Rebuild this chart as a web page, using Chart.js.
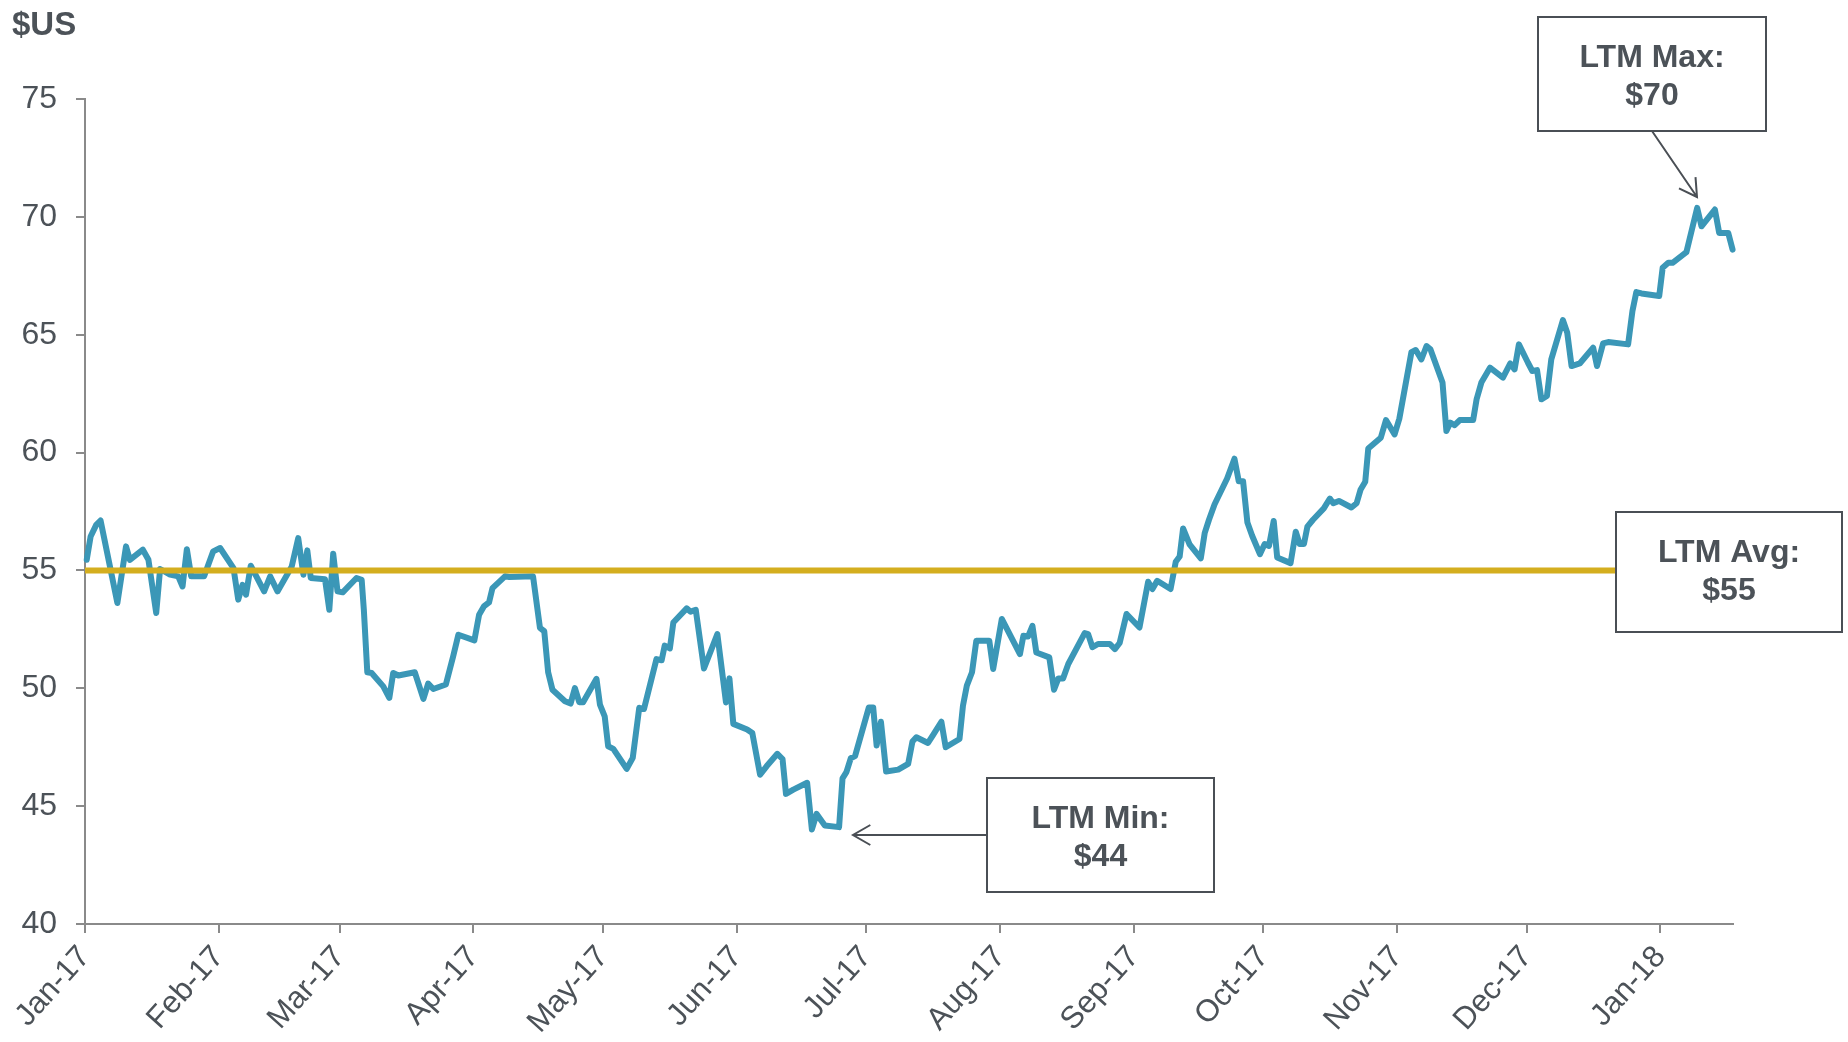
<!DOCTYPE html>
<html>
<head>
<meta charset="utf-8">
<script src="https://cdn.jsdelivr.net/npm/chart.js@4.4.1/dist/chart.umd.min.js"></script>
<style>
  html, body { margin: 0; padding: 0; background: #fff; }
  #wrap { width: 1848px; height: 1042px; position: relative; }
</style>
</head>
<body>
<div id="wrap"><canvas id="priceChart"></canvas></div>
<script>
// x = days counted from 1 Jan 2017 (the Jan-17 tick)
var days = [
  0.4, 1.3, 2.6, 3.6, 7.5, 9.5, 10.4, 13.4, 14.7, 16.5, 17.4, 19.7, 21.6, 22.6, 23.6, 24.6, 27.6, 29.7, 31.3, 34.4,
  35.5, 36.5, 37.3, 38.4, 41.5, 42.9, 44.6, 47.9, 49.4, 50.6, 51.5, 52.3, 55.6, 56.6, 57.5, 58.5, 59.7, 62.9, 64.1, 64.6,
  65.4, 66.4, 69.1, 70.5, 71.4, 72.6, 76.4, 78.4, 79.5, 80.7, 83.6, 85.3, 86.5, 90.2, 91.3, 92.4, 93.6, 94.4, 97.3, 98.3,
  103.8, 105.4, 106.4, 107.3, 108.3, 111.2, 112.5, 113.5, 114.5, 115.4, 118.5, 119.3, 120.4, 121.2, 122.4, 125.5, 126.9, 128.4, 129.5, 132.4,
  133.6, 134.3, 135.5, 136.3, 139.4, 140.3, 141.5, 143.4, 146.5, 148.5, 149.3, 150.2, 153.4, 154.6, 156.4, 157.9, 160.4, 161.6, 162.4, 164.1,
  167.3, 168.4, 169.5, 171.4, 174.7, 175.5, 176.4, 177.4, 178.4, 181.6, 182.6, 183.4, 184.4, 185.6, 188.4, 190.7, 191.7, 192.6, 195.3, 196.5,
  198.4, 199.4, 202.6, 203.4, 204.3, 205.5, 206.5, 209.5, 210.4, 212.4, 216.6, 217.4, 218.5, 219.5, 220.4, 223.4, 224.5, 225.5, 226.6, 227.8,
  231.6, 232.4, 233.4, 234.7, 237.4, 238.6, 239.7, 241.3, 244.3, 246.3, 247.3, 248.4, 251.5, 252.7, 253.6, 254.4, 255.9, 258.5, 259.4, 260.4,
  261.7, 264.6, 266.3, 267.3, 268.3, 269.3, 270.4, 272.2, 273.3, 274.3, 275.4, 276.2, 279.3, 280.5, 281.4, 282.4, 283.2, 284.5, 287.0, 288.4,
  289.2, 290.5, 293.4, 294.6, 295.5, 296.6, 297.3, 300.2, 301.4, 303.4, 304.5, 307.3, 308.3, 309.6, 310.8, 311.7, 314.5, 315.4, 316.3, 317.3,
  318.5, 321.6, 322.4, 323.5, 325.5, 328.5, 330.2, 331.2, 332.2, 334.3, 335.3, 336.4, 337.4, 338.7, 339.7, 342.4, 343.4, 344.4, 346.3, 349.4,
  350.3, 351.7, 352.9, 357.5, 358.5, 359.4, 360.6, 364.7, 365.5, 366.8, 367.8, 371.0, 373.5, 374.5, 377.6, 378.6, 380.7, 381.7
];
var prices = [
  55.45, 56.44, 56.93, 57.12, 53.62, 56.02, 55.45, 55.88, 55.45, 53.19, 55.06, 54.82, 54.75, 54.32, 55.90, 54.75, 54.75, 55.81, 55.95, 55.10,
  53.76, 54.39, 53.97, 55.20, 54.11, 54.75, 54.11, 55.17, 56.37, 54.82, 55.85, 54.68, 54.63, 53.33, 55.71, 54.11, 54.07, 54.68, 54.60, 53.33,
  50.68, 50.65, 50.08, 49.59, 50.65, 50.54, 50.68, 49.55, 50.20, 49.97, 50.16, 51.36, 52.27, 52.03, 53.12, 53.47, 53.64, 54.25, 54.75, 54.72,
  54.75, 52.56, 52.42, 50.68, 49.94, 49.45, 49.35, 50.01, 49.41, 49.41, 50.40, 49.31, 48.81, 47.54, 47.43, 46.58, 47.05, 49.17, 49.12, 51.24,
  51.19, 51.81, 51.69, 52.79, 53.39, 53.25, 53.33, 50.84, 52.30, 49.40, 50.42, 48.49, 48.25, 48.10, 46.33, 46.69, 47.22, 47.00, 45.52, 45.70,
  45.99, 44.01, 44.67, 44.18, 44.11, 46.18, 46.44, 47.03, 47.12, 49.19, 49.19, 47.57, 48.58, 46.47, 46.55, 46.79, 47.74, 47.92, 47.68, 48.02,
  48.58, 47.50, 47.85, 49.26, 50.11, 50.68, 52.02, 52.02, 50.82, 52.94, 51.45, 52.23, 52.20, 52.65, 51.52, 51.31, 49.94, 50.42, 50.42, 51.03,
  52.34, 52.30, 51.74, 51.88, 51.88, 51.66, 51.92, 53.15, 52.58, 54.52, 54.21, 54.56, 54.21, 55.37, 55.59, 56.78, 56.11, 55.51, 56.58, 57.15,
  57.81, 58.90, 59.74, 58.78, 58.78, 57.03, 56.47, 55.69, 56.12, 56.04, 57.10, 55.55, 55.31, 56.64, 56.12, 56.12, 56.86, 57.15, 57.63, 58.05,
  57.85, 57.95, 57.67, 57.85, 58.42, 58.76, 60.17, 60.63, 61.38, 60.77, 61.44, 64.26, 64.35, 63.95, 64.52, 64.38, 62.97, 60.92, 61.27, 61.16,
  61.38, 61.38, 62.26, 62.97, 63.60, 63.18, 63.78, 63.53, 64.59, 63.81, 63.46, 63.50, 62.26, 62.40, 63.95, 65.62, 65.08, 63.67, 63.78, 64.45,
  63.67, 64.63, 64.69, 64.59, 66.00, 66.81, 66.75, 66.64, 67.84, 68.05, 68.05, 68.50, 70.38, 69.60, 70.31, 69.32, 69.32, 68.61
];
var monthDays = [0, 31, 59, 90, 120, 151, 181, 212, 243, 273, 304, 334, 365];
var monthLabels = ['Jan-17', 'Feb-17', 'Mar-17', 'Apr-17', 'May-17', 'Jun-17', 'Jul-17',
                   'Aug-17', 'Sep-17', 'Oct-17', 'Nov-17', 'Dec-17', 'Jan-18'];
var yTicks = [40, 45, 50, 55, 60, 65, 70, 75];
var ltmAvg = 55, ltmMin = 44, ltmMax = 70;
var xMax = 381.8;

var fontFam = '"Liberation Sans", Arial, sans-serif';
var textGrey = '#4c5258';
var boxGrey = '#4a4f55';
var axisGrey = '#8a8a8a';

function drawArrow(ctx, x1, y1, x2, y2) {
  var a = Math.atan2(y2 - y1, x2 - x1), len = 20, spread = Math.PI / 6;
  ctx.beginPath();
  ctx.moveTo(x1, y1); ctx.lineTo(x2, y2);
  ctx.moveTo(x2 - len * Math.cos(a - spread), y2 - len * Math.sin(a - spread));
  ctx.lineTo(x2, y2);
  ctx.lineTo(x2 - len * Math.cos(a + spread), y2 - len * Math.sin(a + spread));
  ctx.stroke();
}

function drawBox(ctx, x, y, w, h, lines) {
  ctx.fillStyle = '#fff';
  ctx.fillRect(x, y, w, h);
  ctx.strokeRect(x, y, w, h);
  ctx.fillStyle = textGrey;
  ctx.font = 'bold 32px ' + fontFam;
  ctx.textAlign = 'center';
  ctx.textBaseline = 'middle';
  ctx.fillText(lines[0], x + w / 2, y + 41);
  ctx.fillText(lines[1], x + w / 2, y + 79);
}

var callouts = {
  id: 'callouts',
  afterDraw: function (chart) {
    var ctx = chart.ctx;
    ctx.save();
    ctx.fillStyle = textGrey;
    ctx.font = 'bold 33px ' + fontFam;
    ctx.textAlign = 'left';
    ctx.textBaseline = 'alphabetic';
    ctx.fillText('$US', 12, 35);

    ctx.strokeStyle = boxGrey;
    ctx.lineWidth = 2;
    drawArrow(ctx, 987, 835, 853, 835);
    drawArrow(ctx, 1652, 131, 1697, 197);
    drawBox(ctx, 987, 778, 227, 114, ['LTM Min:', '$' + ltmMin]);
    drawBox(ctx, 1538, 17, 228, 114, ['LTM Max:', '$' + ltmMax]);
    drawBox(ctx, 1616, 512, 226, 120, ['LTM Avg:', '$' + ltmAvg]);
    ctx.restore();
  }
};

var priceChart = new Chart(document.getElementById('priceChart').getContext('2d'), {
  type: 'line',
  data: {
    datasets: [{
      label: 'LTM Avg',
      data: [{ x: 0, y: ltmAvg }, { x: xMax, y: ltmAvg }],
      borderColor: '#d4ae1f',
      borderWidth: 6,
      pointRadius: 0,
      clip: false
    }, {
      label: 'Price',
      data: days.map(function (d, i) { return { x: d, y: prices[i] }; }),
      borderColor: '#3b97b7',
      borderWidth: 6,
      borderJoinStyle: 'round',
      borderCapStyle: 'round',
      pointRadius: 0,
      tension: 0,
      clip: false
    }]
  },
  options: {
    responsive: true,
    maintainAspectRatio: false,
    animation: false,
    layout: { padding: { top: 99, right: 115, bottom: 0, left: 0 } },
    plugins: { legend: { display: false }, tooltip: { enabled: false } },
    scales: {
      x: {
        type: 'linear',
        min: 0,
        max: xMax,
        afterFit: function (s) { s.height = 118; },
        afterBuildTicks: function (s) { s.ticks = monthDays.map(function (d) { return { value: d }; }); },
        grid: { drawOnChartArea: false, color: axisGrey, lineWidth: 2, tickLength: 9 },
        border: { color: axisGrey, width: 2 },
        ticks: {
          autoSkip: false,
          maxRotation: 48,
          minRotation: 48,
          padding: 6,
          color: textGrey,
          font: { family: fontFam, size: 31 },
          callback: function (v) { var i = monthDays.indexOf(v); return i >= 0 ? monthLabels[i] : ''; }
        }
      },
      y: {
        min: 40,
        max: 75,
        afterFit: function (s) { s.width = 85; },
        afterBuildTicks: function (s) { s.ticks = yTicks.map(function (v) { return { value: v }; }); },
        grid: { drawOnChartArea: false, color: axisGrey, lineWidth: 2, tickLength: 9 },
        border: { color: axisGrey, width: 2 },
        ticks: {
          padding: 19,
          color: textGrey,
          font: { family: fontFam, size: 32 }
        }
      }
    }
  },
  plugins: [callouts]
});
</script>
</body>
</html>
